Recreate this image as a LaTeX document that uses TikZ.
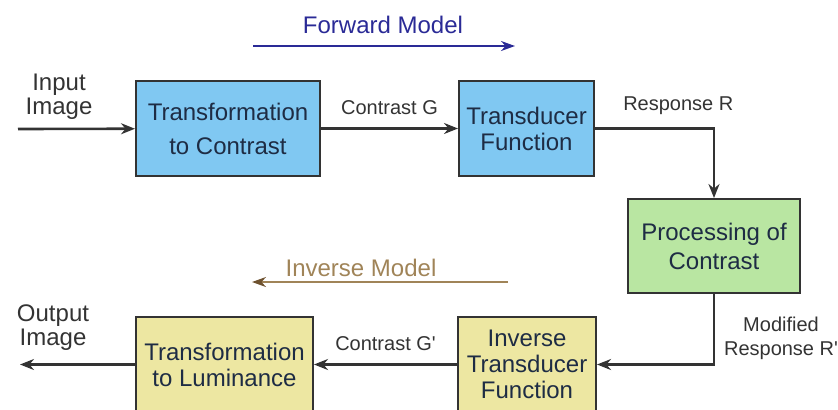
\documentclass[tikz,border=0pt]{standalone}
\usepackage{fontspec}
\setmainfont{Liberation Sans}
\usetikzlibrary{positioning, arrows.meta}
\definecolor{fwdblue}{HTML}{2A2A96}
\definecolor{invbrown}{HTML}{A08458}
\definecolor{invtip}{HTML}{6E5230}
\definecolor{boxblue}{HTML}{80C8F2}
\definecolor{boxgreen}{HTML}{B9E6A2}
\definecolor{boxyellow}{HTML}{EDE7A2}
\definecolor{boxtext}{HTML}{1E2C44}
\definecolor{linegray}{HTML}{333333}

\begin{document}
\begin{tikzpicture}[
      x=0.5pt, y=-0.5pt,
      every node/.style={font=\fontsize{10}{12}\selectfont, text=linegray},
      stage/.style={draw=linegray, line width=1pt, fill=#1, text=boxtext,
                    inner sep=1pt, align=center, font=\fontsize{12}{13}\selectfont},
      flow/.style={-{Stealth[length=7pt, width=5.5pt]}, line width=1.3pt, draw=linegray},
      big/.style={font=\fontsize{12}{12}\selectfont, align=center},
    ]
    \useasboundingbox (0,0) rectangle (838,409);

    % forward chain
    \node[stage=boxblue, minimum width=92pt, minimum height=47.5pt]   (tcon) at (228,128.5)   {Transformation\\[4pt]to Contrast};
    \node[stage=boxblue, minimum width=67.5pt, minimum height=47.5pt] (tfun) at (526.5,128.5) {Transducer\\Function};
    \node[stage=boxgreen, minimum width=86pt, minimum height=47pt]    (proc) at (714,246)     {Processing of\\[1.5pt]Contrast};

    % inverse chain
    \node[stage=boxyellow, minimum width=69pt, minimum height=47.5pt]   (itf)  at (527,364.5)   {Inverse\\Transducer\\Function};
    \node[stage=boxyellow, minimum width=88.5pt, minimum height=47.5pt] (tlum) at (224.5,364.5) {Transformation\\to Luminance};

    \coordinate (in)  at (18,129);
    \coordinate (out) at (20,364.5);
    \node[big] (inlbl)  at (59,97)  {Input\\Image};
    \node[big] (outlbl) at (53,328) {Output\\Image};

    \draw[flow] (in) -- (tcon);
    \draw[flow] (tcon) -- (tfun) node[midway, above=3pt] {Contrast G};
    \draw[flow] (tfun.east) -| (proc.north) node[pos=0.35, above=3pt] {Response R};
    \draw[flow] (proc.south) |- (itf.east);
    \node[align=center] (modr) at (781,338) {Modified\\Response R\textquotesingle};
    \draw[flow] (itf) -- (tlum) node[midway, above=3pt] {Contrast G\textquotesingle};
    \draw[flow] (tlum) -- (out);

    % model direction arrows
    \node[big, text=fwdblue] (fwd) at (383,25) {Forward Model};
    \coordinate (fwda) at (253,46);
    \coordinate (fwdb) at (515,46);
    \draw[-{Stealth[length=7pt, width=5pt]}, line width=1pt, fwdblue] (fwda) -- (fwdb);

    \node[big, text=invbrown] (inv) at (361,268) {Inverse Model};
    \coordinate (inva) at (508,282);
    \coordinate (invb) at (252,282);
    \draw[-{Stealth[length=7pt, width=5pt, fill=invtip, color=invtip]}, line width=1pt, invbrown] (inva) -- (invb);
  \end{tikzpicture}
\end{document}
